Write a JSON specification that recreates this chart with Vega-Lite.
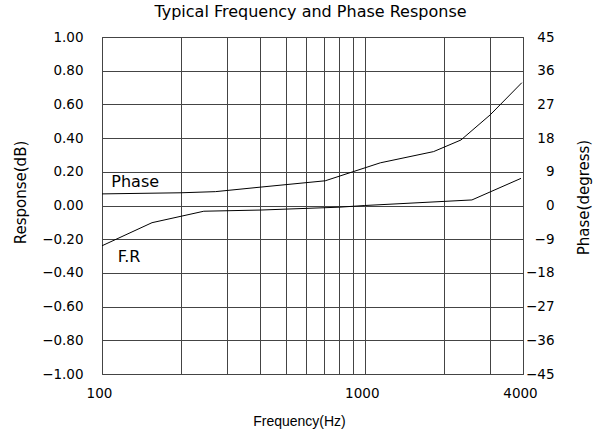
{
  "$schema": "https://vega.github.io/schema/vega-lite/v6.json",
  "width": 421,
  "height": 337,
  "autosize": {"type": "none"},
  "padding": {"left": 102, "top": 37, "right": 77, "bottom": 60},
  "background": "white",
  "title": {
    "text": "Typical Frequency and Phase Response",
    "anchor": "middle",
    "dx": -2,
    "offset": 10,
    "font": "DejaVu Sans",
    "fontSize": 16,
    "fontWeight": "normal",
    "color": "#000"
  },
  "config": {
    "view": {"stroke": "#333", "strokeWidth": 1},
    "axis": {
      "labelFont": "DejaVu Sans",
      "labelFontSize": 13.5,
      "labelColor": "#000",
      "ticks": false,
      "domain": false,
      "gridColor": "#444",
      "gridOpacity": 1,
      "gridWidth": 1,
      "titleFontWeight": "normal",
      "titleColor": "#000",
      "labelOverlap": false,
      "labelFlush": false
    }
  },
  "datasets": {
    "fr": [
      {"freq": 100, "value": -0.239},
      {"freq": 155, "value": -0.102},
      {"freq": 244, "value": -0.034},
      {"freq": 400, "value": -0.027},
      {"freq": 800, "value": -0.01},
      {"freq": 1000, "value": 0.0},
      {"freq": 2557, "value": 0.033},
      {"freq": 3930, "value": 0.161}
    ],
    "phase": [
      {"freq": 100, "value": 3.1},
      {"freq": 200, "value": 3.4},
      {"freq": 270, "value": 3.7},
      {"freq": 400, "value": 4.9},
      {"freq": 707, "value": 6.6},
      {"freq": 1146, "value": 11.4},
      {"freq": 1828, "value": 14.4},
      {"freq": 2323, "value": 17.5},
      {"freq": 3000, "value": 24.2},
      {"freq": 3960, "value": 32.8}
    ],
    "labels": [
      {"freq": 108.5, "value": 0.138, "text": "Phase"},
      {"freq": 114.7, "value": -0.304, "text": "F.R"}
    ]
  },
  "layer": [
    {
      "data": {"name": "fr"},
      "mark": {"type": "line", "color": "black", "strokeWidth": 1},
      "encoding": {
        "x": {
          "field": "freq",
          "type": "quantitative",
          "scale": {"type": "log", "domain": [100, 4000]},
          "axis": {
            "values": [100, 200, 300, 400, 500, 600, 700, 800, 900, 1000, 2000, 3000, 4000],
            "format": "d",
            "labelExpr": "indexof([100, 1000, 4000], datum.value) >= 0 ? datum.label : ''",
            "labelPadding": 12,
            "labelOffset": -3,
            "title": "Frequency(Hz)",
            "titleFont": "Liberation Sans",
            "titleFontSize": 14,
            "titleX": 197,
            "titleY": 47,
            "titleAlign": "center",
            "titleBaseline": "middle",
            "grid": true
          }
        },
        "y": {
          "field": "value",
          "type": "quantitative",
          "scale": {"domain": [-1, 1]},
          "axis": {
            "values": [-1, -0.8, -0.6, -0.4, -0.2, 0, 0.2, 0.4, 0.6, 0.8, 1],
            "format": ".2f",
            "labelPadding": 19,
            "title": "Response(dB)",
            "titleFont": "DejaVu Sans",
            "titleFontSize": 15,
            "titleX": -82,
            "titleY": 155,
            "titleAngle": -90,
            "titleAlign": "center",
            "titleBaseline": "middle",
            "grid": true
          }
        }
      }
    },
    {
      "data": {"name": "phase"},
      "mark": {"type": "line", "color": "black", "strokeWidth": 1},
      "encoding": {
        "x": {
          "field": "freq",
          "type": "quantitative",
          "scale": {"type": "log", "domain": [100, 4000]}
        },
        "y": {
          "field": "value",
          "type": "quantitative",
          "scale": {"domain": [-45, 45]},
          "axis": {
            "orient": "right",
            "values": [-45, -36, -27, -18, -9, 0, 9, 18, 27, 36, 45],
            "format": "d",
            "labelAlign": "right",
            "labelPadding": 31,
            "grid": false,
            "title": "Phase(degress)",
            "titleFont": "DejaVu Sans",
            "titleFontSize": 15,
            "titleX": 60,
            "titleY": 160,
            "titleAngle": -90,
            "titleAlign": "center",
            "titleBaseline": "middle"
          }
        }
      }
    },
    {
      "data": {"name": "labels"},
      "mark": {"type": "text", "align": "left", "baseline": "middle", "font": "DejaVu Sans", "fontSize": 16, "color": "black"},
      "encoding": {
        "x": {"field": "freq", "type": "quantitative", "scale": {"type": "log", "domain": [100, 4000]}},
        "y": {"field": "value", "type": "quantitative", "scale": {"domain": [-1, 1]}, "axis": null},
        "text": {"field": "text"}
      }
    }
  ],
  "resolve": {"scale": {"y": "independent"}}
}
